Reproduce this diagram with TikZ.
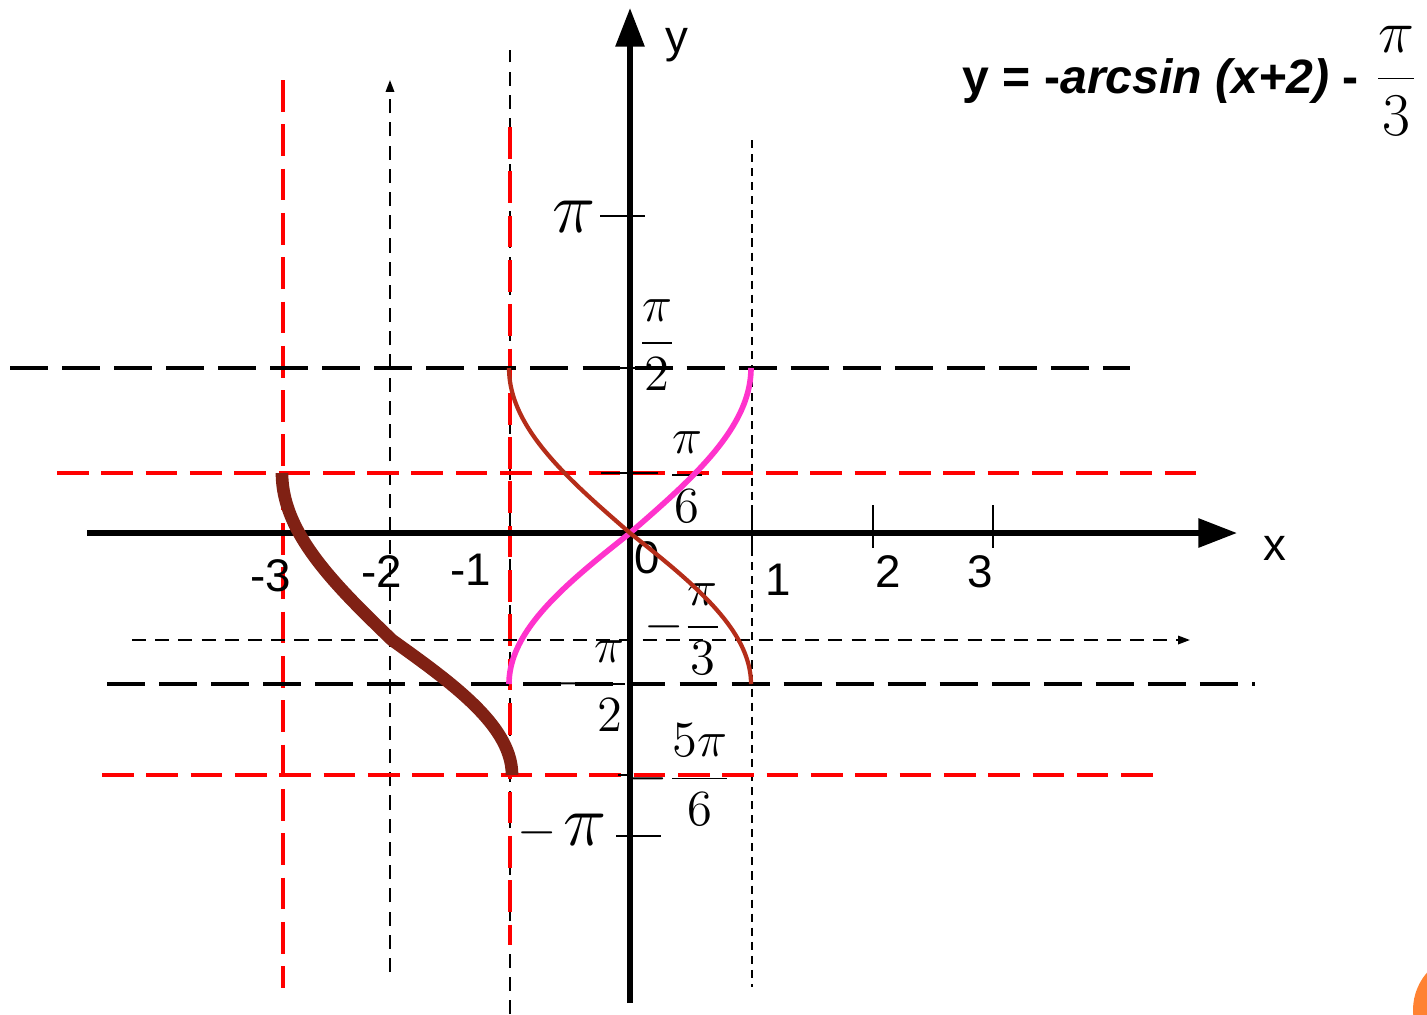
\documentclass[tikz,border=0pt]{standalone}
\usepackage{fontspec}
\setsansfont{Liberation Sans}
\usepackage{tikz}
\usetikzlibrary{arrows.meta}

\definecolor{curvepink}{RGB}{255,51,204}
\definecolor{curvebrown}{RGB}{181,45,25}
\definecolor{curvedark}{RGB}{128,33,20}
\definecolor{cornerorange}{RGB}{255,130,50}

\begin{document}
\begin{tikzpicture}[
x=0.01cm, y=-0.01cm,
axis/.style={line width=1.6pt, -{Triangle[length=11pt, width=8pt]}},
blackdash/.style={line width=1.1pt, dash pattern=on 10.8pt off 4pt},
reddash/.style={red, line width=1.1pt, dash pattern=on 9pt off 3.6pt},
thindash/.style={line width=0.55pt, dash pattern=on 4pt off 2.6pt},
finedash/.style={line width=0.55pt, dash pattern=on 2.3pt off 1.7pt},
smallarrow/.style={-{Triangle[length=3.4pt, width=2.4pt]}},
tickmark/.style={line width=0.45pt},
num/.style={font=\sffamily\fontsize{13}{15}\selectfont, inner sep=0pt},
fraclabel/.style={font=\fontsize{14.5}{17}\selectfont, inner sep=0pt},
bigpi/.style={font=\fontsize{20}{24}\selectfont, inner sep=0pt}
]
\clip (0,0) rectangle (1427,1014);

% corner decoration of the slide
\fill[cornerorange] (1470,1010) circle[radius=57];

% asymptote and guide lines
\draw[reddash] (283,80) -- (283,988);
\draw[thindash, smallarrow] (390,972) -- (390,80);
\draw[thindash] (510,1014) -- (510,50);
\draw[reddash] (510,127) -- (510,945);
\draw[finedash] (752,140) -- (752,987);

\draw[blackdash] (10,368) -- (1130,368);
\draw[reddash] (57,473) -- (1205,473);
\draw[thindash, smallarrow] (132,640) -- (1190,640);
\draw[blackdash] (107,684) -- (1255,684);
\draw[reddash] (102,775) -- (1160,775);

% axes
\draw[axis] (87,533) -- (1237,533);
\draw[axis] (630,1003) -- (630,8);
\node[num] (xlab) at (1275,548) {x};
\node[num] (ylab) at (677,45) {y};

\foreach \xt in {752,873,993}
  \draw[tickmark] (\xt,505) -- (\xt,548);

\node[num] (xm3) at (271,576) {-3};
\node[num] (xm2) at (382,572) {-2};
\node[num] (xm1) at (471,570) {-1};
\node[num] (x0) at (647,558) {0};
\node[num] (x1) at (778,580) {1};
\node[num] (x2) at (888,572) {2};
\node[num] (x3) at (980,572) {3};

% y ticks and labels
\draw[tickmark] (600,216) -- (645,216);
\draw[tickmark] (615,368) -- (645,368);
\draw[tickmark] (601,473) -- (658,473);
\draw[tickmark] (618,775) -- (630,775);
\draw[tickmark] (616,836) -- (661,836);

\node[bigpi] (ypi) at (574,217) {$\pi$};
\node[fraclabel] (yhalfpi) at (657,345) {$\displaystyle\frac{\pi}{2}$};
\node[fraclabel] (ysixthpi) at (687,477) {$\displaystyle\frac{\pi}{6}$};
\node[fraclabel] (ymthirdpi) at (683,629) {$-\displaystyle\frac{\pi}{3}$};
\node[fraclabel] (ymhalfpi) at (590,686) {$-\displaystyle\frac{\pi}{2}$};
\node[fraclabel] (ymfivepi) at (680,775) {$-\displaystyle\frac{5\pi}{6}$};
\node[bigpi] (ympi) at (562,832) {{\fontsize{14}{17}\selectfont$-$}\hspace{2pt}$\pi$};

% curves
\draw[curvepink, line width=1.6pt]
  plot[domain=-90:0, samples=60] ({630+121*sin(\x)}, {533-151*\x/90})
  -- plot[domain=0:90, samples=60] ({630+121*sin(\x)}, {533-165*\x/90});
\draw[curvebrown, line width=1.2pt]
  plot[domain=-90:0, samples=60] ({630-121*sin(\x)}, {533-151*\x/90})
  -- plot[domain=0:90, samples=60] ({630-121*sin(\x)}, {533-165*\x/90});
\draw[curvedark, line width=3.6pt]
  plot[domain=-90:0, samples=60] ({392+110*sin(\x)}, {640+167*\x/90})
  -- plot[domain=0:90, samples=60] ({392+120*sin(\x)}, {640+135*\x/90});

% formula
\node[font=\sffamily\bfseries\fontsize{13.7}{16}\selectfont, anchor=base west, inner sep=0pt] (formula) at (962,93) {y = -\textit{arcsin (x+2)} -};
\node[font=\fontsize{17}{20}\selectfont, inner sep=0pt] (formulafrac) at (1396,81) {$\displaystyle\frac{\pi}{3}$};

\end{tikzpicture}
\end{document}
